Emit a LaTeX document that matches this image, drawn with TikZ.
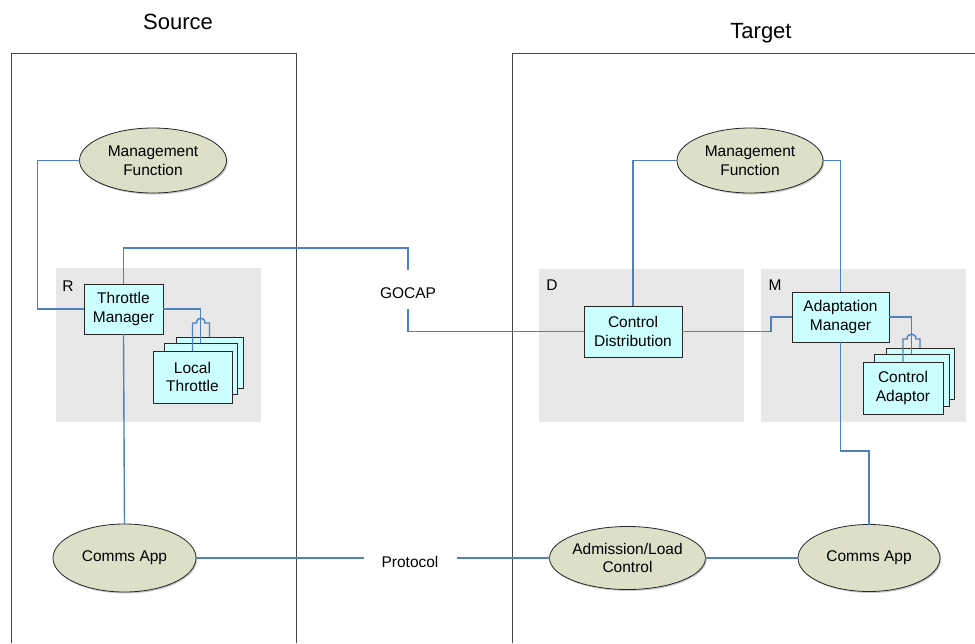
\documentclass[tikz,border=0pt]{standalone}
\usepackage{fontspec}
\setmainfont{Liberation Sans}
\usetikzlibrary{shapes.geometric,shadows}
\definecolor{lnblue}{RGB}{79,129,189}
\definecolor{boxfill}{RGB}{204,255,255}
\definecolor{ellfill}{RGB}{221,223,200}
\definecolor{regfill}{RGB}{232,232,232}
\definecolor{framecol}{RGB}{70,70,70}
\begin{document}
\begin{tikzpicture}[x=1pt,y=-1pt,
  every node/.style={font=\fontsize{15.5}{18.5}\selectfont, inner sep=0pt, outer sep=0pt},
  titletext/.style={font=\fontsize{22}{26}\selectfont},
  region/.style={fill=regfill, draw=none, anchor=north west},
  cbox/.style={draw=black!85, fill=boxfill, line width=0.8pt, align=center},
  ell/.style={ellipse, draw=black!85, fill=ellfill, line width=0.8pt, align=center,
    drop shadow={shadow xshift=1.2pt, shadow yshift=-1.5pt, opacity=0.35, fill=black!60}},
  link/.style={draw=lnblue, line width=1.4pt},
  frame/.style={draw=framecol, line width=1pt},
]
\useasboundingbox (0,0) rectangle (975,643);

% titles
\node[titletext] (src) at (178,22) {Source};
\node[titletext] (tgt) at (761,33) {Target};

% frames
\draw[frame] (11,643) -- (11,53) -- (296,53) -- (296,643);
\draw[frame] (512,643) -- (512,53) -- (975,53);

% grey regions
\node[region, minimum width=205, minimum height=154] (regR) at (56,268) {};
\node[region, minimum width=205, minimum height=153] (regD) at (539,269) {};
\node[region, minimum width=205, minimum height=153] (regM) at (761,269) {};
\node (labR) at (68,286) {R};
\node (labD) at (552,285) {D};
\node (labM) at (775,285) {M};

% ellipses
\node[ell, minimum width=147, minimum height=65] (mfL) at (153,160.5) {Management\\Function};
\node[ell, minimum width=146, minimum height=65] (mfR) at (750,160.5) {Management\\Function};
\node[ell, minimum width=143, minimum height=68] (commsL) at (124.5,558) {Comms App};
\node[ell, minimum width=143, minimum height=63] (adm) at (627.5,558) {Admission/Load\\Control};
\node[ell, minimum width=142, minimum height=67] (commsR) at (869,558) {Comms App};

% boxes
\node[cbox, minimum width=79, minimum height=50] (tm) at (123.5,309) {Throttle\\Manager};
\node[cbox, minimum width=67, minimum height=51] (lt3) at (209.5,362.5) {};
\node[cbox, minimum width=73, minimum height=51] (lt2) at (200.5,368.5) {};
\node[cbox, minimum width=79, minimum height=52] (lt1) at (192.5,377) {Local\\Throttle};

\node[cbox, minimum width=98, minimum height=51] (cd) at (633,331.5) {Control\\Distribution};
\node[cbox, minimum width=97, minimum height=50] (am) at (840.5,317) {Adaptation\\Manager};
\node[cbox, minimum width=68, minimum height=51] (ca3) at (920,373.5) {};
\node[cbox, minimum width=75, minimum height=52] (ca2) at (911.5,380) {};
\node[cbox, minimum width=80, minimum height=52] (ca1) at (903,388) {Control\\Adaptor};

% text labels
\node (gocap) at (408,293) {GOCAP};
\node (proto) at (410,562) {Protocol};
\coordinate (g1) at (408,248);
\coordinate (gtop) at (408,270);
\coordinate (gbot) at (408,309);
\coordinate (pL) at (364,558);
\coordinate (pR) at (457,558);
\coordinate (amb) at (840.5,451);
\coordinate (cdb) at (771,331.5);

% links
\draw[link] (mfL.west) -- ++(-42,0) |- (tm.west);
\draw[link] (tm.north) |- (g1) -- (gtop);
\draw[link] (gbot) |- (cd.west);
\draw[link] (cd.north) |- (mfR.west);
\draw[link] (mfR.east) -| (am.north);
\draw[link] (cd.east) -- (cdb) |- (am.west);
\draw[link] (tm.south) -- (commsL.north);
\draw[link] (am.south) -- (amb) -| (commsR.north);
\draw[link] (commsL.east) -- (pL);
\draw[link] (pR) -- (adm.west);
\draw[link] (adm.east) -- (commsR.west);

% manager to stacked components
\draw[link] (tm.east) -| (lt2.north);
\draw[link] (lt1.north) -- (192.5,323) -- (196.5,323)
  .. controls (196.5,316.5) and (205,316.5) .. (205,323) -- (209.5,323) -- (lt3.north);
\draw[link] (am.east) -| (ca2.north);
\draw[link] (ca1.north) -- (903,339) -- (907,339)
  .. controls (907,332.5) and (916,332.5) .. (916,339) -- (920,339) -- (ca3.north);
\end{tikzpicture}
\end{document}
